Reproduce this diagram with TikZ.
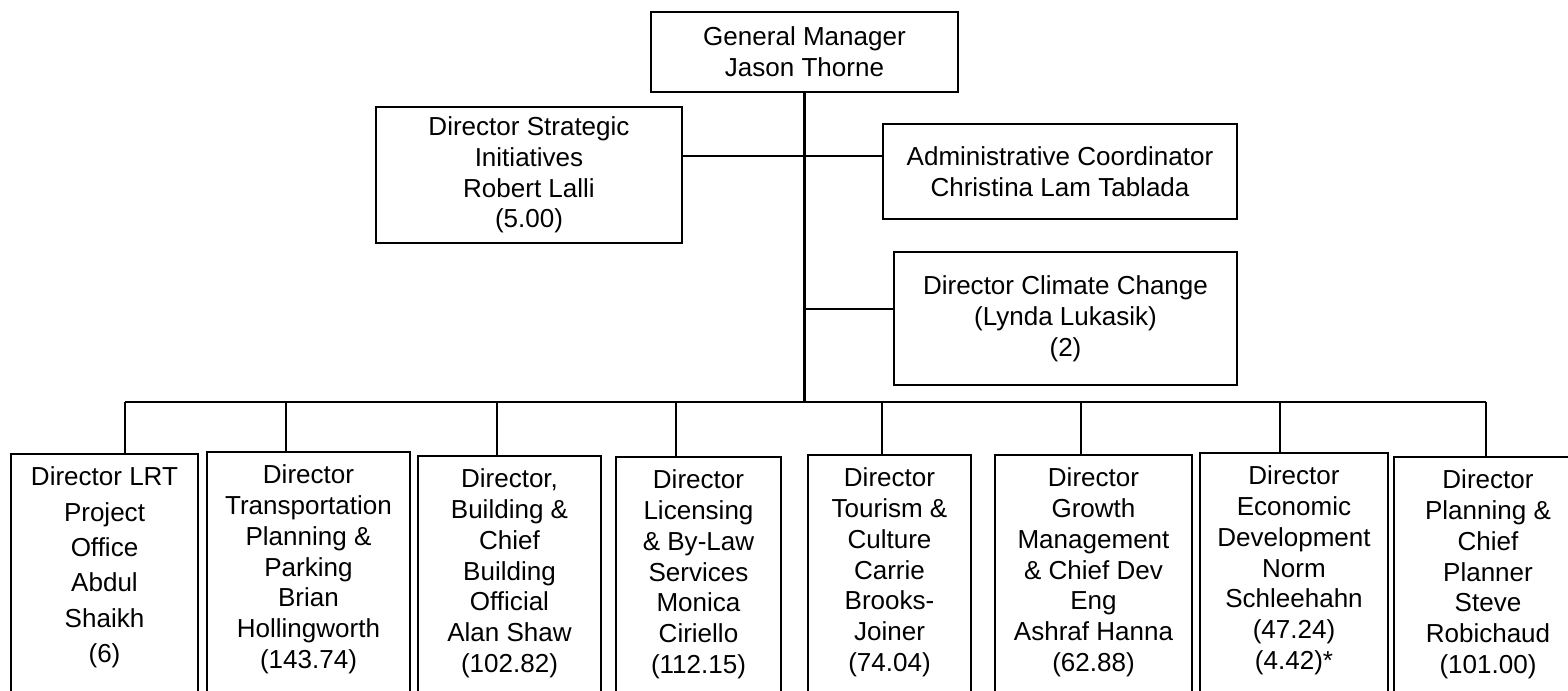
\documentclass[tikz,border=0pt]{standalone}
\usepackage{fontspec}
\setmainfont{Liberation Sans}
\usetikzlibrary{positioning}
\tikzset{
    x=0.01cm, y=-0.01cm,% one unit is one pixel of the chart, y runs down
    box/.style = {rectangle, draw, line width=0.5pt, align=center, inner sep=0pt, font=\fontsize{7.4}{8.75}\selectfont},
    dir/.style = {box, anchor=north, inner ysep=3.7pt, text depth=3cm}, % bottom row, cut by the page edge
    ln/.style = {line width=0.6pt}
}
\begin{document}
\begin{tikzpicture}
    \useasboundingbox (0,0) rectangle (1568,691);
    \clip (0,0) rectangle (1568,691);
    \node[box, minimum width=3.07cm, minimum height=0.8cm] (0) at (804.5,52) {General Manager\\Jason Thorne};
    \node[box, minimum width=3.06cm, minimum height=1.36cm] (s) at (529,175) {Director Strategic\\Initiatives\\Robert Lalli\\(5.00)};
    \node[box, minimum width=3.54cm, minimum height=0.95cm] (ad) at (1060,171.5) {Administrative Coordinator\\Christina Lam Tablada};
    \node[box, minimum width=3.43cm, minimum height=1.33cm] (cc) at (1065.5,318.5) {Director Climate Change\\(Lynda Lukasik)\\(2)};
    % directors
    \node[dir, minimum width=1.87cm] (1) at (104.5,453) {Director LRT\\[1.3pt]Project\\[1.3pt]Office\\[1.3pt]Abdul\\[1.3pt]Shaikh\\[1.3pt](6)};
    \node[dir, minimum width=2.03cm] (2) at (308.5,451) {Director\\Transportation\\Planning \&\\Parking\\Brian\\Hollingworth\\(143.74)};
    \node[dir, minimum width=1.83cm] (3) at (509.5,455) {Director,\\Building \&\\Chief\\Building\\Official\\Alan Shaw\\(102.82)};
    \node[dir, minimum width=1.65cm] (4) at (698.5,456) {Director\\Licensing\\\& By-Law\\Services\\Monica\\Ciriello\\(112.15)};
    \node[dir, minimum width=1.63cm] (5) at (889.5,454) {Director\\Tourism \&\\Culture\\Carrie\\Brooks-\\Joiner\\(74.04)};
    \node[dir, minimum width=1.97cm] (6) at (1093.5,454) {Director\\Growth\\Management\\\& Chief Dev\\Eng\\Ashraf Hanna\\(62.88)};
    \node[dir, minimum width=1.88cm] (7) at (1294,452) {Director\\Economic\\Development\\Norm\\Schleehahn\\(47.24)\\(4.42)*};
    \node[dir, minimum width=1.88cm] (8) at (1488,456) {Director\\Planning \&\\Chief\\Planner\\Steve\\Robichaud\\(101.00)};
    % connectors
    \coordinate (t) at (804.5,402);
    \coordinate (m) at (804.5,156);
    \coordinate (c) at (804.5,309);
    \draw[ln] (0) -- (t);
    \draw[ln] (m -| s.east) -- (m -| ad.west);
    \draw[ln] (c) -- (c -| cc.west);
    \draw[ln] (125,402) -- (1486,402);
    \foreach \x/\n in {125/1, 286/2, 497/3, 676/4, 882/5, 1081/6, 1280/7, 1486/8}
        \draw[ln] (\x,402) -- (\x,402 |- \n.north);
\end{tikzpicture}
\end{document}
